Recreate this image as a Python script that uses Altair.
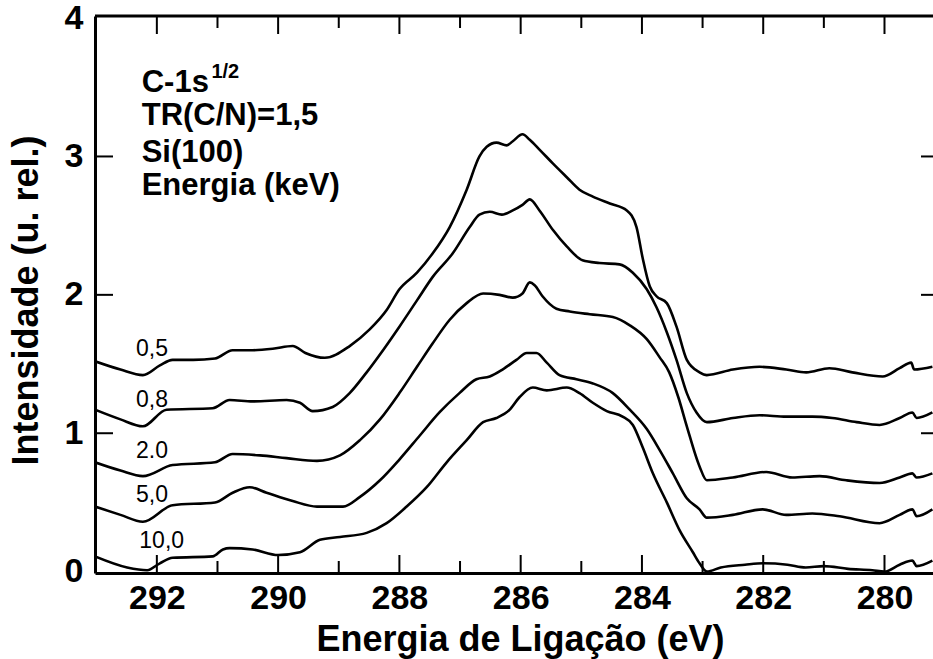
import altair as alt
import pandas as pd

# Binding energy (eV) and relative intensity for each primary-beam energy
e_05 = [293.02, 292.6, 292.23, 291.95, 291.74, 291.4, 291.04, 290.75, 290.42, 290.09,
        289.76, 289.55, 289.23, 288.82, 288.49, 288.21, 288.0, 287.71, 287.45, 287.17,
        286.89, 286.68, 286.56, 286.4, 286.23, 286.13, 285.97, 285.85, 285.69, 285.47,
        285.24, 285.03, 284.81, 284.53, 284.25, 284.09, 283.99, 283.87, 283.76, 283.59,
        283.43, 283.26, 283.05, 282.93, 282.5, 282.06, 281.62, 281.29, 280.91, 280.53,
        280.03, 279.75, 279.56, 279.51, 279.21]
i_05 = [1.52, 1.46, 1.42, 1.49, 1.53, 1.53, 1.54, 1.60, 1.60, 1.61,
        1.63, 1.58, 1.545, 1.63, 1.75, 1.89, 2.04, 2.16, 2.30, 2.49,
        2.76, 3.00, 3.07, 3.10, 3.08, 3.11, 3.16, 3.12, 3.05, 2.95,
        2.85, 2.76, 2.71, 2.66, 2.61, 2.49, 2.27, 2.06, 1.99, 1.94,
        1.77, 1.53, 1.44, 1.42, 1.46, 1.48, 1.46, 1.44, 1.47, 1.44,
        1.41, 1.47, 1.51, 1.46, 1.48]

e_08 = [293.02, 292.6, 292.23, 291.84, 291.08, 290.8, 290.42, 289.86, 289.64, 289.43,
        289.1, 288.82, 288.54, 288.27, 288.0, 287.71, 287.45, 287.12, 286.84, 286.68,
        286.51, 286.31, 286.13, 285.97, 285.85, 285.69, 285.47, 285.24, 284.98, 284.7,
        284.37, 284.15, 283.92, 283.76, 283.59, 283.43, 283.26, 283.1, 282.93, 282.5,
        282.06, 281.62, 281.19, 280.86, 280.46, 280.08, 279.75, 279.54, 279.47, 279.21]
i_08 = [1.17, 1.10, 1.05, 1.17, 1.18, 1.24, 1.23, 1.24, 1.22, 1.16,
        1.19, 1.29, 1.44, 1.60, 1.77, 1.96, 2.13, 2.30, 2.49, 2.58,
        2.60, 2.58, 2.61, 2.65, 2.69, 2.61, 2.47, 2.35, 2.25, 2.23,
        2.22, 2.16, 2.04, 1.91, 1.73, 1.53, 1.29, 1.15, 1.08, 1.11,
        1.13, 1.12, 1.12, 1.11, 1.08, 1.06, 1.11, 1.15, 1.11, 1.15]

e_20 = [293.02, 292.6, 292.23, 291.74, 291.04, 290.75, 290.3, 289.86, 289.36, 288.98,
        288.65, 288.32, 288.0, 287.71, 287.45, 287.17, 286.89, 286.62, 286.35, 286.13,
        285.97, 285.85, 285.77, 285.64, 285.41, 285.19, 284.86, 284.48, 284.2, 283.92,
        283.71, 283.55, 283.4, 283.26, 283.05, 282.93, 282.5, 281.95, 281.52, 281.07,
        280.63, 280.08, 279.75, 279.54, 279.47, 279.21]
i_20 = [0.79, 0.73, 0.69, 0.77, 0.79, 0.85, 0.84, 0.82, 0.80, 0.84,
        0.95, 1.10, 1.29, 1.48, 1.65, 1.82, 1.94, 2.01, 2.00, 1.98,
        2.01, 2.09, 2.07, 1.99, 1.90, 1.88, 1.86, 1.84, 1.78, 1.68,
        1.55, 1.44, 1.26, 1.05, 0.76, 0.66, 0.68, 0.72, 0.68, 0.69,
        0.66, 0.64, 0.68, 0.71, 0.68, 0.71]

e_50 = [293.02, 292.6, 292.23, 291.74, 291.04, 290.75, 290.47, 290.19, 289.76, 289.36,
        288.93, 288.65, 288.32, 288.0, 287.67, 287.34, 287.01, 286.73, 286.51, 286.3,
        286.07, 285.9, 285.74, 285.57, 285.36, 285.08, 284.81, 284.48, 284.2, 283.92,
        283.71, 283.49, 283.26, 283.05, 282.93, 282.5, 282.01, 281.62, 281.19, 280.74,
        280.08, 279.75, 279.54, 279.47, 279.21]
i_50 = [0.47, 0.41, 0.36, 0.48, 0.50, 0.57, 0.61, 0.57, 0.51, 0.47,
        0.47, 0.54, 0.66, 0.81, 0.98, 1.15, 1.29, 1.39, 1.41, 1.46,
        1.53, 1.58, 1.58, 1.51, 1.42, 1.39, 1.36, 1.29, 1.17, 1.03,
        0.88, 0.71, 0.53, 0.45, 0.39, 0.41, 0.45, 0.41, 0.42, 0.40,
        0.35, 0.41, 0.45, 0.40, 0.45]

e_100 = [293.02, 292.49, 292.16, 291.95, 291.74, 291.08, 290.91, 290.8, 290.42, 290.0,
         289.64, 289.31, 288.98, 288.54, 288.21, 287.88, 287.55, 287.22, 286.89, 286.62,
         286.4, 286.18, 286.02, 285.8, 285.57, 285.24, 285.03, 284.81, 284.58, 284.32,
         284.15, 283.99, 283.82, 283.59, 283.38, 283.16, 283.05, 282.93, 282.7, 282.3,
         282.0, 281.6, 281.3, 281.0, 280.6, 280.2, 280.0, 279.75, 279.54, 279.47, 279.21]
i_100 = [0.11, 0.03, 0.01, 0.06, 0.10, 0.11, 0.16, 0.17, 0.16, 0.12,
         0.14, 0.23, 0.25, 0.28, 0.35, 0.47, 0.61, 0.79, 0.95, 1.08,
         1.11, 1.17, 1.26, 1.33, 1.31, 1.33, 1.29, 1.22, 1.16, 1.12,
         1.06, 0.90, 0.71, 0.50, 0.30, 0.14, 0.06, 0.00, 0.03, 0.05,
         0.06, 0.05, 0.03, 0.04, 0.02, 0.01, 0.00, 0.05, 0.08, 0.04, 0.08]

# Curve labels (keV) and where they sit
serie_labels = ["0,5", "0,8", "2.0", "5,0", "10,0"]
label_x = [292.08, 292.08, 292.08, 292.08, 291.92]
label_y = [1.56, 1.19, 0.82, 0.50, 0.17]

# Annotation block in the upper-left corner
info_lines = ["C-1s", "TR(C/N)=1,5", "Si(100)", "Energia (keV)"]
info_x = [292.25, 292.25, 292.25, 292.25]
info_y = [3.466, 3.227, 2.960, 2.722]
sup_text = ["1/2"]
sup_x = [291.1]
sup_y = [3.567]

# Tick positions
x_major = [280, 282, 284, 286, 288, 290, 292]
x_minor = [281, 283, 285, 287, 289, 291]
y_major = [1, 2, 3]

FONT = "Liberation Sans"
W, H = 838, 557

series = [(serie_labels[0], e_05, i_05), (serie_labels[1], e_08, i_08),
          (serie_labels[2], e_20, i_20), (serie_labels[3], e_50, i_50),
          (serie_labels[4], e_100, i_100)]
df = pd.concat([pd.DataFrame({"energia": e, "intensidade": v, "serie": s})
                for s, e, v in series], ignore_index=True)

x_scale = alt.Scale(domain=[279.2, 293.02], reverse=True, nice=False, zero=False)
y_scale = alt.Scale(domain=[-0.01, 4.015], nice=False, zero=False)

x_axis = alt.Axis(
    values=x_major, format="d", grid=False, ticks=False, tickSize=0,
    labelFont=FONT, labelFontSize=34, labelFontWeight="bold", labelColor="black",
    labelPadding=8, labelFlush=False, labelOverlap=False,
    domainColor="black", domainWidth=3,
    title="Energia de Ligação (eV)", titleFont=FONT, titleFontSize=36,
    titleFontWeight="bold", titleColor="black", titleBaseline="alphabetic",
    titleAlign="center", titleX=425, titleY=77,
)
y_axis = alt.Axis(
    values=[0, 1, 2, 3, 4], format="d", grid=False, ticks=False, tickSize=0,
    labelFont=FONT, labelFontSize=34, labelFontWeight="bold", labelColor="black",
    labelPadding=12, labelOverlap=False,
    domainColor="black", domainWidth=3,
    title="Intensidade (u. rel.)", titleFont=FONT, titleFontSize=36,
    titleFontWeight="bold", titleColor="black", titleAngle=270,
    titleBaseline="alphabetic", titleAlign="center", titleX=-58, titleY=284,
)


def xenc():
    return alt.X("energia:Q", scale=x_scale, axis=x_axis)


def yenc():
    return alt.Y("intensidade:Q", scale=y_scale, axis=y_axis)


lines = alt.Chart(df).mark_line(
    color="black", strokeWidth=2.6, clip=True, interpolate="monotone"
).encode(x=xenc(), y=yenc(), detail="serie:N")

# inward tick marks on the bottom and top frame
xmaj = pd.DataFrame({"energia": x_major})
xmin = pd.DataFrame({"energia": x_minor})
ticks_bottom_major = alt.Chart(xmaj).mark_rule(color="black", strokeWidth=2).encode(
    x=xenc(), y=alt.value(H), y2=alt.value(H - 18))
ticks_bottom_minor = alt.Chart(xmin).mark_rule(color="black", strokeWidth=2).encode(
    x=xenc(), y=alt.value(H), y2=alt.value(H - 12))
ticks_top_major = alt.Chart(xmaj).mark_rule(color="black", strokeWidth=2).encode(
    x=xenc(), y=alt.value(0), y2=alt.value(18))
ticks_top_minor = alt.Chart(xmin).mark_rule(color="black", strokeWidth=2).encode(
    x=xenc(), y=alt.value(0), y2=alt.value(12))

# inward tick marks on the left and right side
ymaj = pd.DataFrame({"intensidade": y_major})
ticks_left = alt.Chart(ymaj).mark_rule(color="black", strokeWidth=2).encode(
    y=yenc(), x=alt.value(0), x2=alt.value(18))
ticks_right = alt.Chart(ymaj).mark_rule(color="black", strokeWidth=2).encode(
    y=yenc(), x=alt.value(W), x2=alt.value(W - 12))

# top frame line
top_frame = alt.Chart(pd.DataFrame({"k": [0]})).mark_rule(color="black", strokeWidth=3).encode(
    x=alt.value(0), x2=alt.value(W), y=alt.value(0))

curve_labels = alt.Chart(pd.DataFrame({
    "energia": label_x, "intensidade": label_y, "txt": serie_labels})).mark_text(
    font=FONT, fontSize=23, color="black", align="center", baseline="alphabetic"
).encode(x=xenc(), y=yenc(), text="txt:N")

info = alt.Chart(pd.DataFrame({
    "energia": info_x, "intensidade": info_y, "txt": info_lines})).mark_text(
    font=FONT, fontSize=31, fontWeight="bold", color="black", align="left",
    baseline="alphabetic"
).encode(x=xenc(), y=yenc(), text="txt:N")

sup = alt.Chart(pd.DataFrame({
    "energia": sup_x, "intensidade": sup_y, "txt": sup_text})).mark_text(
    font=FONT, fontSize=20, fontWeight="bold", color="black", align="left",
    baseline="alphabetic"
).encode(x=xenc(), y=yenc(), text="txt:N")

chart = alt.layer(
    lines, ticks_bottom_major, ticks_bottom_minor, ticks_top_major, ticks_top_minor,
    ticks_left, ticks_right, top_frame, curve_labels, info, sup
).properties(
    width=W, height=H,
    padding={"left": 95, "top": 16, "right": 0, "bottom": 86},
    autosize=alt.AutoSizeParams(type="none"),
    background="white",
).configure_view(stroke=None)

chart.save("out.html", embed_options={"renderer": "svg", "actions": False})
